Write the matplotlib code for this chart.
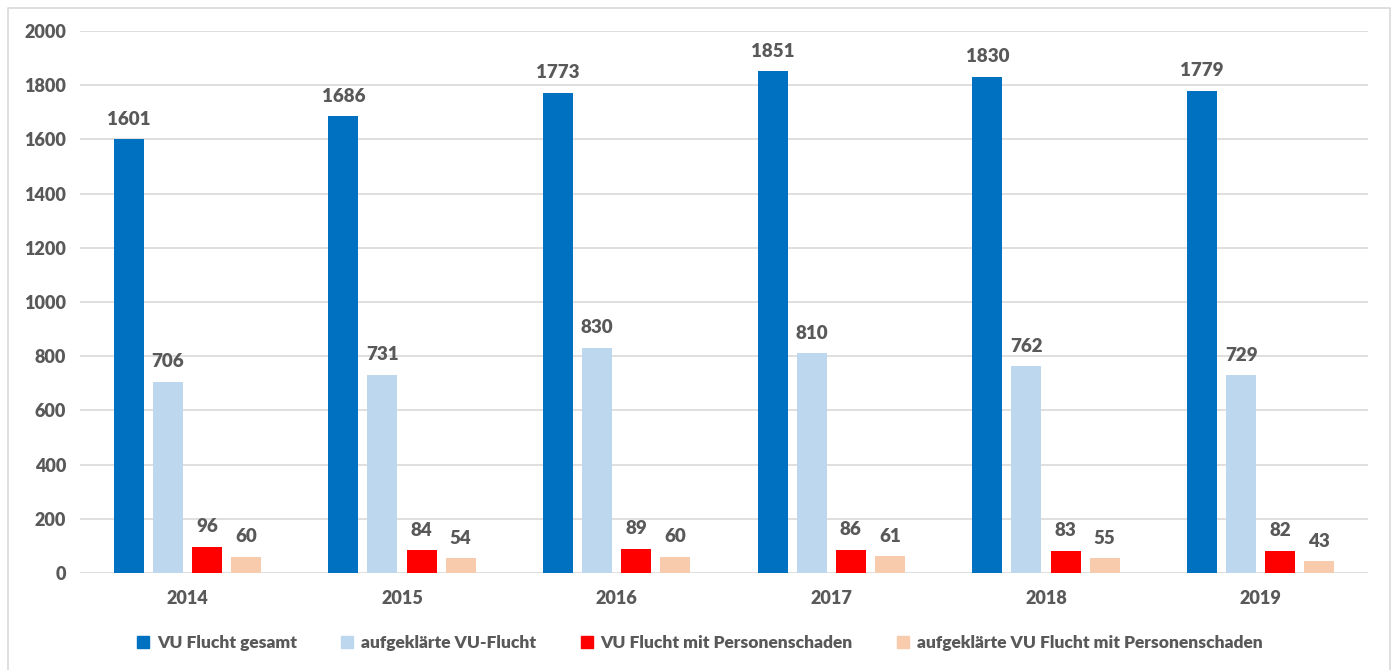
import numpy as np
import matplotlib.pyplot as plt
from matplotlib.lines import Line2D

years = ['2014', '2015', '2016', '2017', '2018', '2019']
series_names = ['VU Flucht gesamt', 'aufgeklärte VU-Flucht',
                'VU Flucht mit Personenschaden',
                'aufgeklärte VU Flucht mit Personenschaden']
vu_gesamt = [1601, 1686, 1773, 1851, 1830, 1779]
vu_aufgeklaert = [706, 731, 830, 810, 762, 729]
vu_personen = [96, 84, 89, 86, 83, 82]
vu_personen_aufgeklaert = [60, 54, 60, 61, 55, 43]

COLORS = ['#0070C0', '#BDD7EE', '#FF0000', '#F8CBAD']
TEXT = '#595959'
GRID = '#D9D9D9'

plt.rcParams['font.family'] = ['Lato', 'DejaVu Sans']
plt.rcParams['font.weight'] = 'bold'

fig = plt.figure(figsize=(13.97, 6.70), dpi=100)
ax = fig.add_axes([80 / 1397, 97 / 670, 1288 / 1397, 542 / 670])

x = np.arange(len(years))
step = 0.182
width = 0.14
data = [vu_gesamt, vu_aufgeklaert, vu_personen, vu_personen_aufgeklaert]
for i, (vals, col) in enumerate(zip(data, COLORS)):
    pos = x + (i - 1.5) * step
    ax.bar(pos, vals, width=width, color=col, zorder=2)
    for px, v in zip(pos, vals):
        ax.annotate(str(v), (px, v), xytext=(0, 10.5), textcoords='offset points',
                    ha='center', va='baseline', fontsize=13.5,
                    fontweight='heavy', color=TEXT)

ax.set_xlim(-0.5, len(years) - 0.5)
ax.set_ylim(0, 2000)
ax.set_yticks(range(0, 2001, 200))
ax.set_xticks(x)
ax.set_xticklabels(years)
ax.grid(axis='y', color=GRID, linewidth=1.2, zorder=0)
ax.tick_params(length=0, labelsize=13, colors=TEXT, pad=10)
ax.tick_params(axis='x', pad=12)
for lbl in ax.get_xticklabels() + ax.get_yticklabels():
    lbl.set_fontweight('heavy')
for s in ax.spines.values():
    s.set_visible(False)

handles = [Line2D([], [], marker='s', linestyle='', markersize=9,
                  markerfacecolor=c, markeredgecolor=c) for c in COLORS]
leg = fig.legend(handles, series_names, loc='center', bbox_to_anchor=(0.5, 1 - 643 / 670),
                 ncol=4, frameon=False, fontsize=12.5, labelcolor=TEXT,
                 handletextpad=0.3, columnspacing=2.4, handlelength=1.0)
for t in leg.get_texts():
    t.set_fontweight('heavy')

# light frame around the chart area
fig.add_artist(Line2D([8 / 1397, 8 / 1397, 1390 / 1397, 1390 / 1397],
                      [0, 1 - 8 / 670, 1 - 8 / 670, 0],
                      transform=fig.transFigure, color=GRID, linewidth=1.2))

fig.savefig('out.png', dpi=100, facecolor='white')
